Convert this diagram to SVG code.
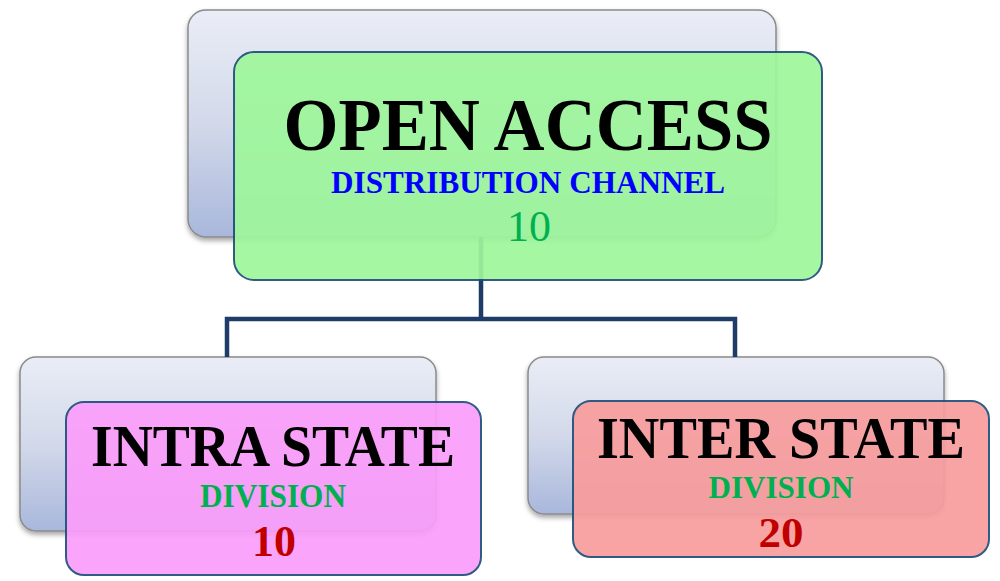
<svg xmlns="http://www.w3.org/2000/svg" width="1000" height="581" viewBox="0 0 1000 581">
<defs>
<linearGradient id="backGrad" x1="0" y1="0" x2="0" y2="1">
<stop offset="0" stop-color="#eaedf6"/>
<stop offset="0.5" stop-color="#d3d9ea"/>
<stop offset="1" stop-color="#a8b7db"/>
</linearGradient>
<filter id="shadow" x="-5%" y="-5%" width="110%" height="120%">
<feDropShadow dx="0" dy="3" stdDeviation="2.5" flood-color="#000" flood-opacity="0.35"/>
</filter>
</defs>
<style>
.back{fill:url(#backGrad);stroke:#8a8a8a;stroke-width:1.5;filter:url(#shadow)}
.front{stroke:#1f4e79;stroke-width:2;opacity:0.92}
.title{font-family:"Liberation Serif","DejaVu Serif",serif;font-weight:bold;fill:#000;text-anchor:middle}
.sub{font-family:"Liberation Serif","DejaVu Serif",serif;text-anchor:middle}
.conn{fill:none;stroke:#1f3c68;stroke-width:4.5;stroke-linejoin:miter}
</style>
<rect width="1000" height="581" fill="#fff"/>
<g id="back-boxes">
<rect class="back" x="188" y="10" width="588" height="227" rx="18"/>
<rect class="back" x="20" y="357" width="416" height="174" rx="16"/>
<rect class="back" x="528" y="357" width="416" height="157" rx="16"/>
</g>
<g id="connectors">
<path class="conn" d="M481 237 V319 M227 357 V319 H735 V357"/>
</g>
<g id="node-open-access">
<rect class="front" x="234" y="52" width="588" height="228" rx="20" fill="#9ef79b"/>
<text class="title" x="528" y="150" font-size="75" textLength="489" lengthAdjust="spacingAndGlyphs">OPEN ACCESS</text>
<text class="sub" x="528" y="193" font-size="32" font-weight="bold" fill="#0000ff" textLength="394" lengthAdjust="spacingAndGlyphs">DISTRIBUTION CHANNEL</text>
<text class="sub" x="529" y="241" font-size="44" fill="#00b050" textLength="44" lengthAdjust="spacingAndGlyphs">10</text>
</g>
<g id="node-intra-state">
<rect class="front" x="66" y="402" width="415" height="173" rx="18" fill="#fb9dfb"/>
<text class="title" x="273" y="466" font-size="59" textLength="364" lengthAdjust="spacingAndGlyphs">INTRA STATE</text>
<text class="sub" x="273" y="507" font-size="33" font-weight="bold" fill="#00b050" textLength="146" lengthAdjust="spacingAndGlyphs">DIVISION</text>
<text class="sub" x="274" y="556" font-size="45" font-weight="bold" fill="#c00000" textLength="44" lengthAdjust="spacingAndGlyphs">10</text>
</g>
<g id="node-inter-state">
<rect class="front" x="573" y="401" width="416" height="156" rx="18" fill="#f99d9d"/>
<text class="title" x="781" y="458" font-size="59" textLength="368" lengthAdjust="spacingAndGlyphs">INTER STATE</text>
<text class="sub" x="781" y="498" font-size="32" font-weight="bold" fill="#00b050" textLength="145" lengthAdjust="spacingAndGlyphs">DIVISION</text>
<text class="sub" x="781" y="547" font-size="43" font-weight="bold" fill="#c00000" textLength="45" lengthAdjust="spacingAndGlyphs">20</text>
</g>
</svg>
